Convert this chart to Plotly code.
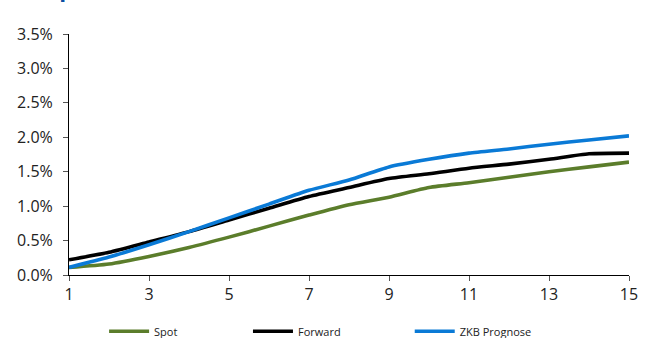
import plotly.graph_objects as go

# Laufzeit in Jahren
years = list(range(1, 16))

# Zinssätze in Prozent
spot = [0.11, 0.16, 0.27, 0.40, 0.55, 0.71, 0.87, 1.02, 1.13, 1.27, 1.34, 1.42, 1.50, 1.57, 1.64]
forward = [0.22, 0.33, 0.48, 0.63, 0.80, 0.97, 1.14, 1.27, 1.40, 1.47, 1.55, 1.61, 1.68, 1.76, 1.77]
zkb_prognose = [0.11, 0.26, 0.44, 0.63, 0.83, 1.03, 1.23, 1.38, 1.57, 1.68, 1.77, 1.83, 1.90, 1.96, 2.02]

y_ticks = [0.0, 0.5, 1.0, 1.5, 2.0, 2.5, 3.0, 3.5]
y_tick_labels = ["0.0%", "0.5%", "1.0%", "1.5%", "2.0%", "2.5%", "3.0%", "3.5%"]
x_ticks = [1, 3, 5, 7, 9, 11, 13, 15]

title_text = "Swapkurve CHF (in Prozent)"

# name, values, colour, legend id, legend x position (container fraction)
series = [
    ("Spot", spot, "#5b7d2b", "legend", 0.157),
    ("Forward", forward, "#000000", "legend2", 0.374),
    ("ZKB Prognose", zkb_prognose, "#0a7ad6", "legend3", 0.618),
]

font_family = "Open Sans, Noto Sans, sans-serif"
text_color = "#222222"

fig = go.Figure()
legend_layouts = {}
for name, values, color, legend_id, lx in series:
    fig.add_trace(go.Scatter(
        x=years, y=values, name=name, mode="lines", legend=legend_id,
        line=dict(color=color, width=3.6, shape="spline", smoothing=0.6),
    ))
    legend_layouts[legend_id] = dict(
        orientation="h", x=lx, xanchor="left", xref="container",
        y=0.02, yanchor="middle", yref="container",
        font=dict(size=11, color=text_color),
        bgcolor="rgba(0,0,0,0)", itemwidth=40,
    )

fig.update_layout(
    width=663, height=338,
    margin=dict(l=69, r=34, t=34, b=63, autoexpand=False),
    paper_bgcolor="white", plot_bgcolor="white",
    font=dict(family=font_family, size=16, color=text_color),
    showlegend=True,
    xaxis=dict(
        range=[1, 15], tickvals=x_ticks, ticks="outside", ticklen=5,
        tickcolor="#555555", showline=True, linecolor="#000000", linewidth=1,
        showgrid=False, zeroline=False, tickfont=dict(size=16),
    ),
    yaxis=dict(
        range=[0, 3.5], tickvals=y_ticks, ticktext=y_tick_labels,
        ticks="outside", ticklen=5, tickcolor="#555555",
        showline=True, linecolor="#000000", linewidth=1,
        showgrid=False, zeroline=False, tickfont=dict(size=16),
        ticklabelstandoff=7,
    ),
    # chart heading sits above the top edge of the page
    annotations=[dict(
        text="<b>" + title_text + "</b>", xref="paper", yref="paper",
        x=-0.102, y=1.121, xanchor="left", yanchor="bottom", showarrow=False,
        font=dict(size=22.5, color="#0b4ea2", family=font_family),
    )],
    **legend_layouts,
)

fig.write_html("out.html")
